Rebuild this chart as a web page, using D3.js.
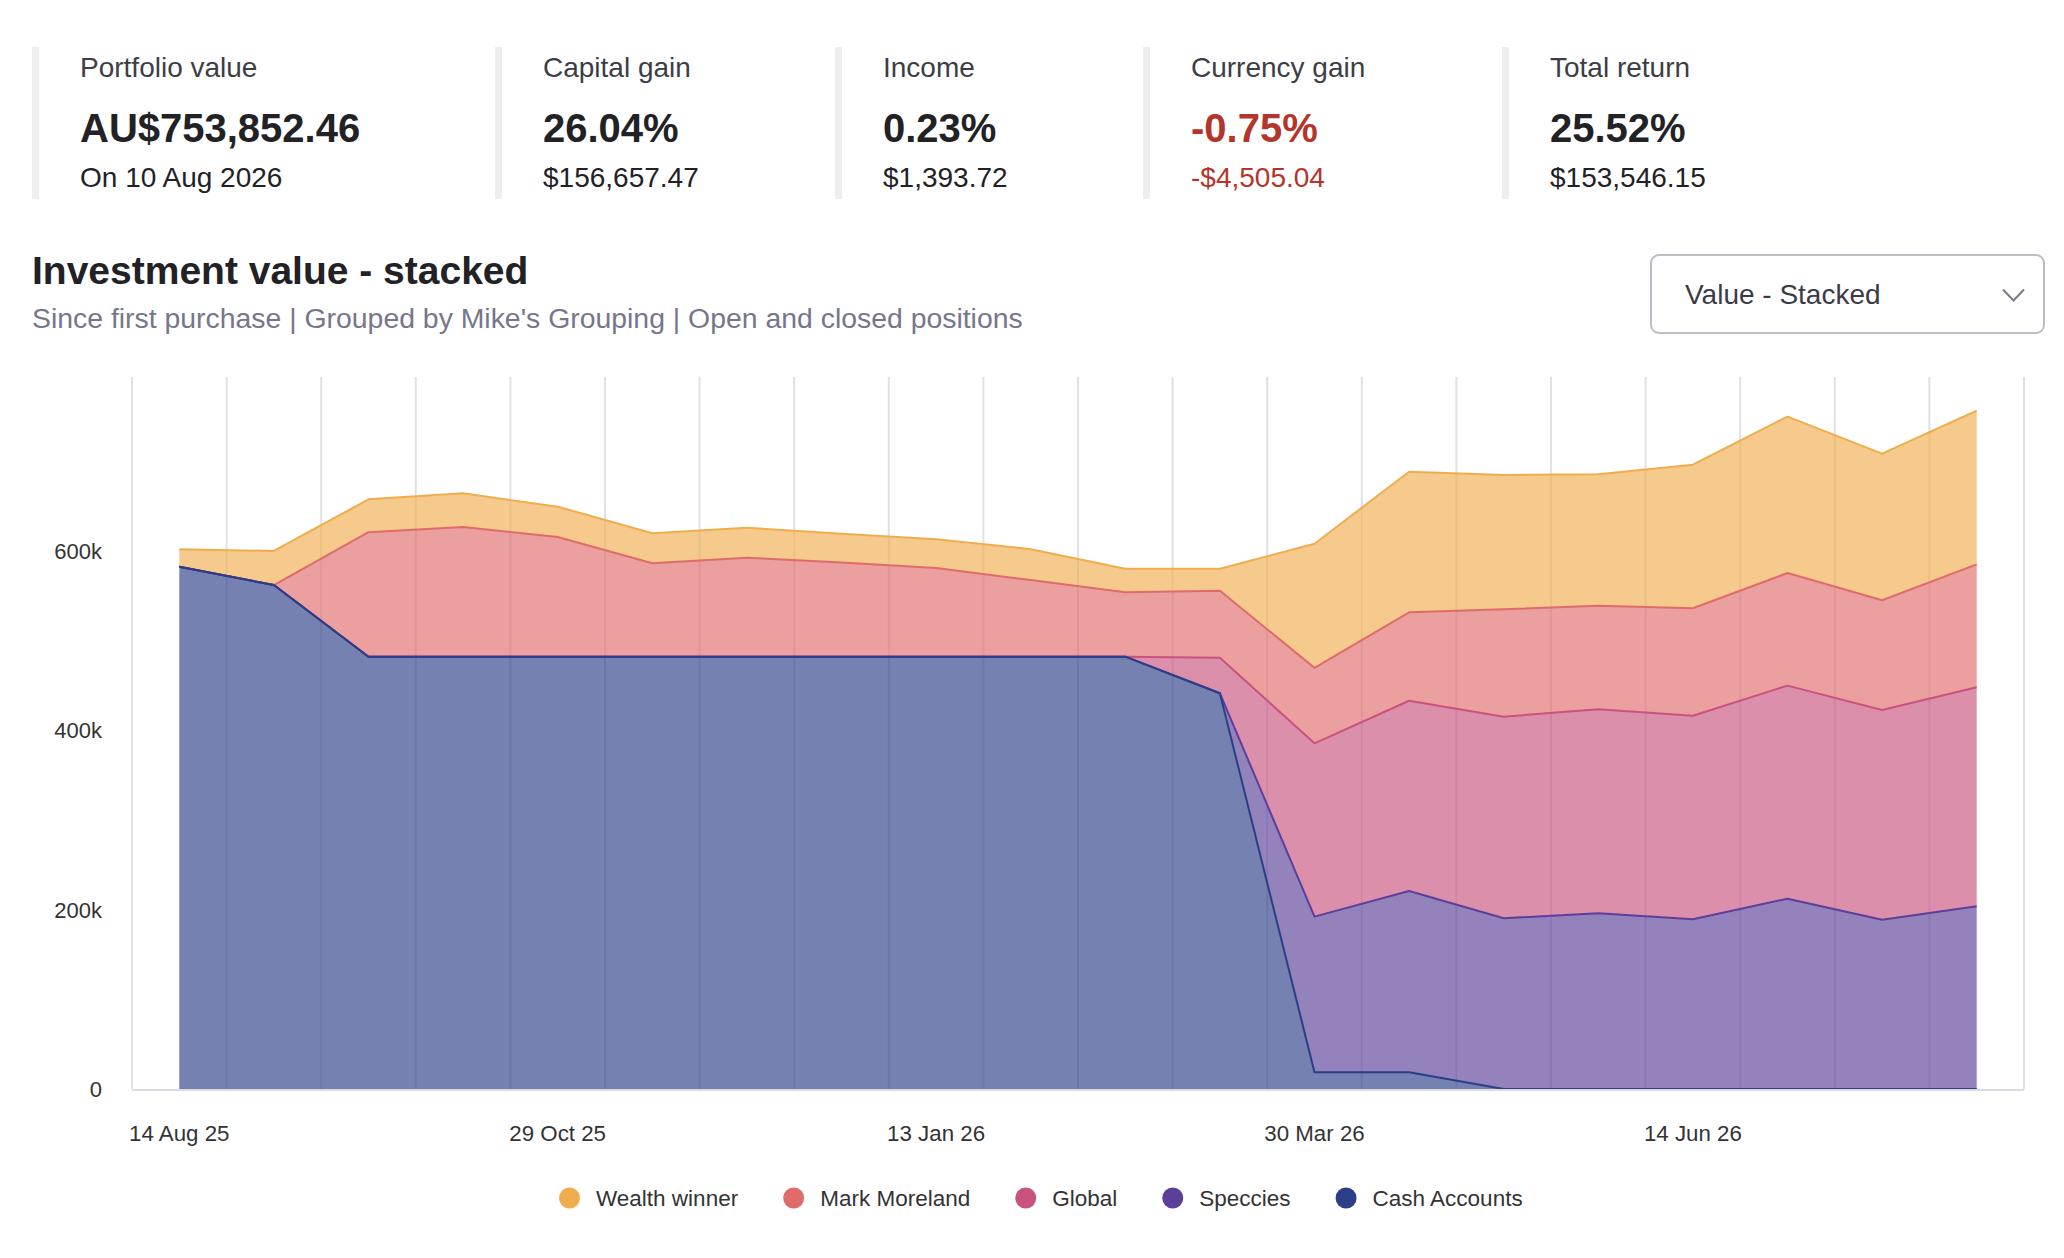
<!DOCTYPE html>
<html>
<head>
<meta charset="utf-8">
<script src="https://cdn.jsdelivr.net/npm/d3@7/dist/d3.min.js"></script>
<style>
  html, body { margin: 0; padding: 0; background: #ffffff; }
  svg { display: block; font-family: "Liberation Sans", Arial, Helvetica, sans-serif; }
</style>
</head>
<body>
<svg id="chart" width="2064" height="1258"></svg>
<script>
// ---------- DATA ----------
const categories = [
  "14 Aug 25","2 Sep 25","21 Sep 25","10 Oct 25","29 Oct 25","17 Nov 25","6 Dec 25",
  "25 Dec 25","13 Jan 26","1 Feb 26","20 Feb 26","11 Mar 26","30 Mar 26","18 Apr 26",
  "7 May 26","26 May 26","14 Jun 26","3 Jul 26","22 Jul 26","10 Aug 26"
];
const tickLabels = ["14 Aug 25","29 Oct 25","13 Jan 26","30 Mar 26","14 Jun 26"];
const yTicks = [0, 200000, 400000, 600000];
const yTickLabels = ["0", "200k", "400k", "600k"];

const seriesNames = ["Wealth winner", "Mark Moreland", "Global", "Speccies", "Cash Accounts"];
const seriesColors = ["#f0ad4e", "#e06b6b", "#c9537e", "#5b3f9a", "#2b3e87"];

// values in AUD
const wealthWinner = [19400, 38000, 36700, 37600, 33800, 33400, 33500, 32000, 32000, 34400,
                      26300, 24500, 138500, 156800, 149700, 146500, 160100, 174400, 163500, 171300];
const markMoreland = [0, 0, 138800, 144600, 133500, 104200, 110400, 105000, 99000, 85500,
                      71800, 74700, 84100, 98600, 119800, 115600, 119800, 125600, 122300, 137100];
const globalSeries = [0, 0, 0, 0, 0, 0, 0, 0, 0, 0,
                      0, 39700, 193300, 212200, 224800, 227500, 227100, 237600, 233900, 244300];
const speccies     = [0, 0, 0, 0, 0, 0, 0, 0, 0, 0,
                      0, 0, 173600, 202200, 190400, 195900, 189200, 212200, 188800, 203700];
const cashAccounts = [582500, 562000, 482100, 482100, 482100, 482100, 482100, 482100, 482100, 482100,
                      482100, 441300, 18600, 18600, 0, 0, 0, 0, 0, 0];

const cardLabels = ["Portfolio value", "Capital gain", "Income", "Currency gain", "Total return"];
const cardValues = ["AU$753,852.46", "26.04%", "0.23%", "-0.75%", "25.52%"];
const cardSubs   = ["On 10 Aug 2026", "$156,657.47", "$1,393.72", "-$4,505.04", "$153,546.15"];
const cardNegative = [false, false, false, true, false];

const chartTitle = "Investment value - stacked";
const chartSubtitle = "Since first purchase | Grouped by Mike's Grouping | Open and closed positions";
const dropdownText = "Value - Stacked";

// ---------- LAYOUT ----------
const svg = d3.select("#chart");
const cardX = [32, 495, 835, 1143, 1502];
const plot = { left: 132, right: 2024, top: 377, bottom: 1089 };

// ---------- HEADER CARDS ----------
const cards = svg.append("g");
cardLabels.forEach((lab, i) => {
  const g = cards.append("g").attr("transform", `translate(${cardX[i]},0)`);
  g.append("rect").attr("x", 0).attr("y", 47).attr("width", 7).attr("height", 152).attr("fill", "#eeeef1");
  g.append("text").attr("x", 48).attr("y", 77).attr("font-size", 28).attr("fill", "#3d3d48").text(lab);
  g.append("text").attr("x", 48).attr("y", 142).attr("font-size", 40).attr("font-weight", "bold")
    .attr("fill", cardNegative[i] ? "#b3352b" : "#222226").text(cardValues[i]);
  g.append("text").attr("x", 48).attr("y", 187).attr("font-size", 28)
    .attr("fill", cardNegative[i] ? "#b3352b" : "#222226").text(cardSubs[i]);
});

// ---------- TITLE ----------
svg.append("text").attr("x", 32).attr("y", 284).attr("font-size", 39).attr("font-weight", "bold")
  .attr("fill", "#222226").text(chartTitle);
svg.append("text").attr("x", 32).attr("y", 328).attr("font-size", 28.4).attr("fill", "#76768c")
  .text(chartSubtitle);

// dropdown
const dd = svg.append("g");
dd.append("rect").attr("x", 1651).attr("y", 255).attr("width", 393).attr("height", 78).attr("rx", 8)
  .attr("fill", "#fff").attr("stroke", "#bdbdc6").attr("stroke-width", 2);
dd.append("text").attr("x", 1685).attr("y", 304).attr("font-size", 28).attr("fill", "#3b3b48").text(dropdownText);
dd.append("polyline").attr("points", "2003,289.5 2013.5,300.5 2024,289.5")
  .attr("fill", "none").attr("stroke", "#7a7a88").attr("stroke-width", 2);

// ---------- SCALES ----------
const x = d3.scaleBand().domain(categories).range([plot.left, plot.right]).paddingInner(0).paddingOuter(0);
const xc = d => x(d) + x.bandwidth() / 2;
const y = d3.scaleLinear().domain([0, 794000]).range([plot.bottom, plot.top]);

// gridlines at band edges
const gridG = svg.append("g");
const edges = categories.map(c => x(c)).concat([plot.right]);
gridG.selectAll("line").data(edges).join("line")
  .attr("x1", d => d).attr("x2", d => d).attr("y1", plot.top).attr("y2", plot.bottom)
  .attr("stroke", "#dfe1e7").attr("stroke-width", 2);

// ---------- STACK ----------
const seriesArrays = [wealthWinner, markMoreland, globalSeries, speccies, cashAccounts];
const table = categories.map((c, i) => {
  const row = { cat: c };
  seriesNames.forEach((n, s) => row[n] = seriesArrays[s][i]);
  return row;
});
// bottom of stack is Cash Accounts, top is Wealth winner
const stackOrder = seriesNames.slice().reverse();
const stacked = d3.stack().keys(stackOrder)(table);

const area = d3.area().x(d => xc(d.data.cat)).y0(d => y(d[0])).y1(d => y(d[1]));
const line = d3.line().x(d => xc(d.data.cat)).y(d => y(d[1]));

const areaG = svg.append("g");
seriesNames.forEach((name, s) => {
  const layer = stacked.find(l => l.key === name);
  const g = areaG.append("g");
  g.append("path").attr("d", area(layer)).attr("fill", seriesColors[s]).attr("fill-opacity", 0.65);
  g.append("path").attr("d", line(layer)).attr("fill", "none").attr("stroke", seriesColors[s])
    .attr("stroke-width", 2).attr("stroke-linejoin", "round");
});

// x axis line
svg.append("line").attr("x1", plot.left).attr("x2", plot.right).attr("y1", plot.bottom + 1).attr("y2", plot.bottom + 1)
  .attr("stroke", "#d9dce3").attr("stroke-width", 2);

// x labels
svg.append("g").selectAll("text").data(tickLabels).join("text")
  .attr("x", d => xc(d)).attr("y", 1141).attr("text-anchor", "middle")
  .attr("font-size", 22.3).attr("fill", "#333").text(d => d);

// y labels
svg.append("g").selectAll("text").data(yTicks).join("text")
  .attr("x", 102).attr("y", d => y(d)).attr("dy", "0.36em").attr("text-anchor", "end")
  .attr("font-size", 22).attr("fill", "#333").text((d, i) => yTickLabels[i]);

// ---------- LEGEND ----------
const legend = svg.append("g");
let lx = 559;
seriesNames.forEach((name, s) => {
  const g = legend.append("g");
  g.append("circle").attr("cx", lx + 10.5).attr("cy", 1198).attr("r", 10.5).attr("fill", seriesColors[s]);
  const t = g.append("text").attr("x", lx + 37).attr("y", 1206).attr("font-size", 22.5).attr("fill", "#333").text(name);
  const w = t.node().getComputedTextLength();
  lx = lx + 37 + w + 45;
});
</script>
</body>
</html>
